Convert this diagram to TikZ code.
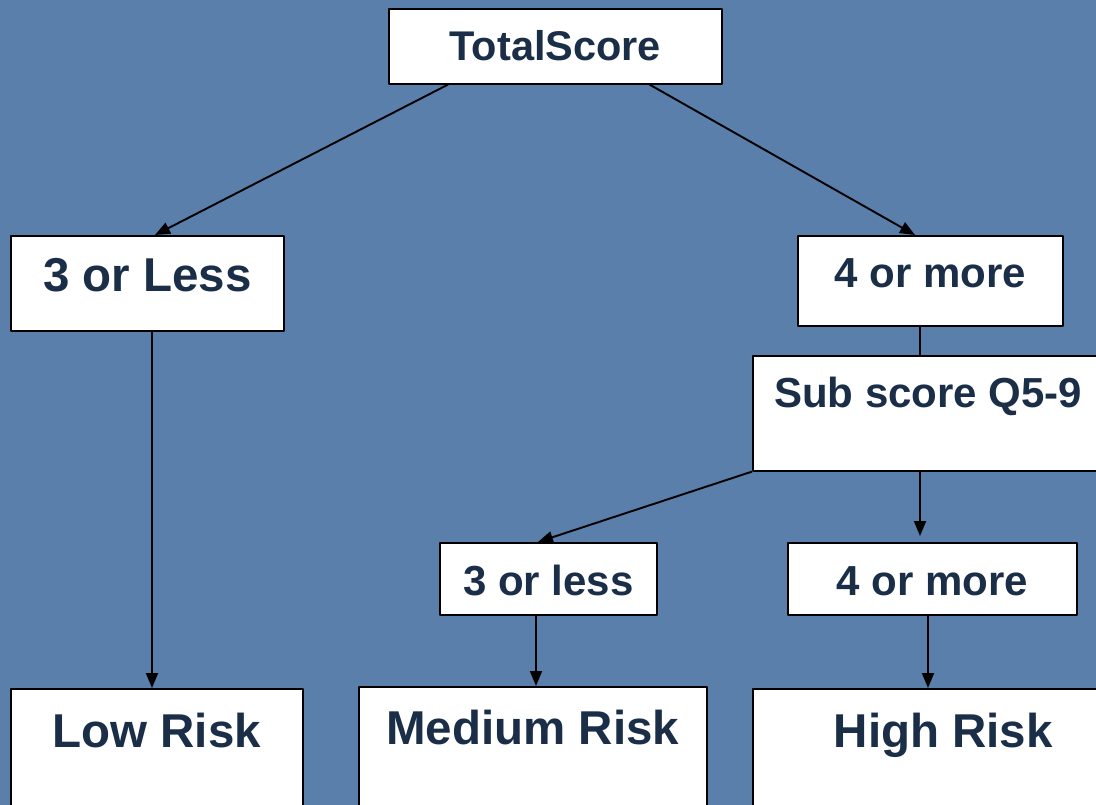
\documentclass[tikz,border=0pt]{standalone}
\usepackage{fontspec}
\setmainfont{Liberation Sans}
\usetikzlibrary{arrows.meta}
\definecolor{slate}{RGB}{89,127,170}
\definecolor{ink}{RGB}{26,46,72}

\begin{document}
\begin{tikzpicture}[x=1pt,y=-1pt,line join=round,>={Triangle[length=15pt,width=12pt]},
	box/.style={draw=black,line width=1.6pt,fill=white,inner sep=0pt,anchor=north west,text=ink},
	link/.style={line width=1.9pt}]
	\useasboundingbox (0,0) rectangle (1096,805);
	\clip (0,0) rectangle (1096,805);
	\fill[slate] (0,0) rectangle (1096,805);
	% name/left/top/width/height/above baseline/below baseline/font size/text
	\foreach \n/\x/\y/\w/\h/\a/\d/\s/\t in {
		total/388/8/333/75/52/23/41.5/TotalScore,
		less/10/235/273/95/56/39/47.5/3 or Less,
		more/797/235/265/90/52/38/42/4 or more,
		sub/752/355/351/115/52/63/42/Sub score Q5-9,
		subless/439/542/217/72/53/19/42/3 or less,
		submore/787/542/289/72/53/19/42/4 or more,
		low/10/688/292/140/59/81/47.5/Low Risk,
		medium/358/686/348/140/58/82/47.5/Medium Risk,
		high/752/688/381/140/59/81/47.5/High Risk}
	\node[box,minimum width=\w pt,minimum height=\h pt,text height=\a pt,text depth=\d pt,
		font=\bfseries\fontsize{\s}{\s}\selectfont] (\n) at (\x,\y) {\t};
	% branches
	\draw[link,->] ([xshift=60pt]total.south west) -- ([xshift=145pt]less.north west);
	\draw[link,->] ([xshift=-73pt]total.south east) -- ([xshift=118pt]more.north west);
	\draw[link,->] ([xshift=142pt]less.south west) -- ([xshift=142pt]low.north west);
	\draw[link] ([xshift=123pt]more.south west) -- ([xshift=168pt]sub.north west);
	\draw[link,->] (sub.south west) -- ([xshift=99pt]subless.north west);
	\draw[link,->,shorten >=6pt] ([xshift=168pt]sub.south west) -- ([xshift=133pt]submore.north west);
	\draw[link,->] ([xshift=97pt]subless.south west) -- ([xshift=178pt]medium.north west);
	\draw[link,->] ([xshift=141pt]submore.south west) -- ([xshift=176pt]high.north west);
\end{tikzpicture}
\end{document}
